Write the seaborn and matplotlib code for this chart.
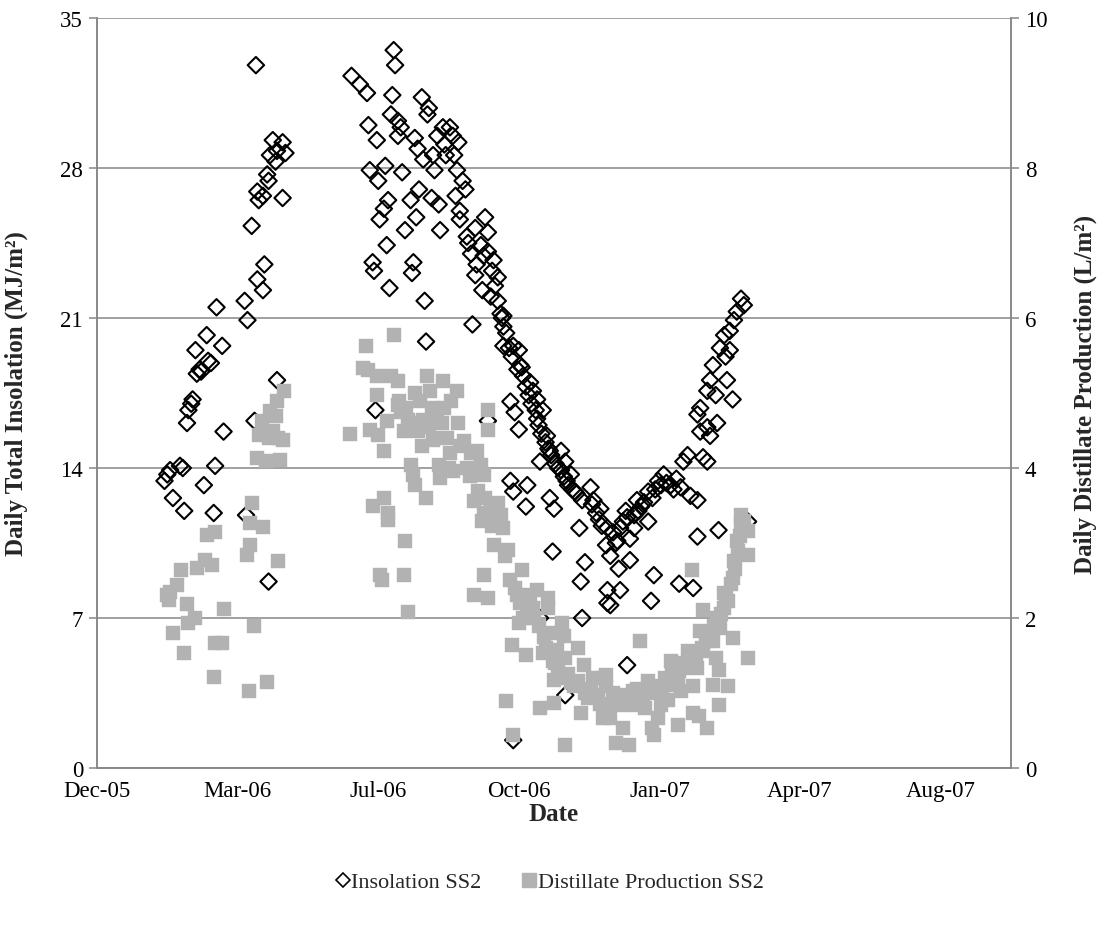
import pandas as pd
import matplotlib
matplotlib.use("Agg")
import matplotlib.pyplot as plt
import matplotlib.dates as mdates
from matplotlib.lines import Line2D
import seaborn as sns

# Daily records for still SS2; days are counted from 1 Jan 2006
ins_day = [
    31, 33, 35, 37, 42, 44, 45, 47, 48, 50, 51, 53, 54, 56, 57, 59, 61, 62, 64, 66,
    67, 68, 72, 73, 88, 89, 90, 93, 95, 96, 97, 97, 98, 101, 101, 102, 104, 105, 105, 106,
    108, 110, 111, 111, 115, 115, 117,
    164, 170, 175, 176, 177, 179, 180, 181, 182, 183, 184, 187, 188, 189, 190, 191, 192, 193,
    194, 195, 197, 197, 199, 200, 201, 202, 206, 207, 208, 209, 210, 211, 212, 214, 215, 216,
    217, 218, 219, 221, 222, 223, 225, 226, 227, 229, 230, 231, 234, 236, 237, 238, 239, 240,
    241, 241, 243, 245, 246, 247, 249, 250, 252, 252, 253, 256, 257, 258, 259, 261, 261, 261,
    263, 264, 265, 266, 268, 268, 270, 271, 272, 272, 272, 274, 276, 277, 277, 278, 279, 279,
    279, 280, 282, 283, 283, 284, 285, 286, 288, 288, 289, 290, 291, 292, 293, 295, 296, 296,
    297, 298, 298, 299, 300, 302, 303, 304, 305, 305, 306, 307, 308, 309, 311, 313, 313, 315,
    316, 316, 317, 318, 320, 321, 323, 324, 326, 327, 328, 328, 330, 334, 335, 336, 338, 340,
    341, 342, 345, 346, 346, 346, 348, 348, 350, 352, 353, 354, 355, 355, 357, 359, 360, 360,
    362, 362, 365, 365, 366, 367, 368, 370, 372, 375, 375, 377, 378, 379, 380, 382, 384, 386,
    388, 391, 393, 395, 397, 398, 400, 403, 405, 407, 410, 410, 410, 412, 412, 414, 417, 417,
    417, 419, 419, 421, 423, 424, 425, 426, 429, 430, 431, 433, 433, 435, 436, 438, 441, 443,
    446,
]
ins_val = [
    13.4, 13.7, 13.9, 12.6, 14.1, 14.0, 12.0, 16.1, 16.7, 17.0, 17.2, 19.5, 18.4, 18.6, 18.5, 13.2, 20.2, 19.0, 18.9, 11.9,
    14.1, 21.5, 19.7, 15.7, 21.8, 11.8, 20.9, 25.3, 16.2, 32.8, 22.8, 26.9, 26.5, 22.3, 26.7, 23.5, 27.7, 27.4, 8.7, 28.6,
    29.3, 28.3, 28.8, 18.1, 29.2, 26.6, 28.7,
    32.3, 31.9, 31.5, 30.0, 27.9, 23.6, 23.2, 16.7, 29.3, 27.4, 25.6, 26.1, 28.1, 24.4, 26.5, 22.4, 30.5, 31.4,
    33.5, 32.8, 29.5, 30.2, 29.9, 27.8, 16.8, 25.1, 26.5, 23.1, 23.6, 29.4, 25.7, 28.9, 27.0, 31.3, 28.4, 21.8,
    19.9, 30.5, 30.8, 26.6, 28.6, 27.9, 29.5, 26.3, 25.1, 29.9, 29.1, 28.6, 29.9, 29.5, 28.6, 26.7, 27.9, 29.2,
    25.6, 26.0, 27.4, 27.0, 24.8, 24.5, 24.0, 20.7, 25.2, 23.0, 23.5, 24.4, 22.3, 23.9, 25.7, 25.0, 16.2, 24.1,
    22.0, 23.2, 23.7, 22.5, 22.9, 21.8, 21.2, 21.0, 21.1, 20.6, 19.7, 20.3, 19.6, 17.1, 13.4, 19.2, 19.7, 12.9,
    1.3, 16.6, 18.6, 19.5, 15.8, 18.8, 18.7, 18.3, 12.2, 17.8, 13.2, 17.4, 18.0, 17.0, 17.6, 16.7, 17.2, 16.3,
    16.0, 14.3, 7.0, 15.6, 16.7, 15.2, 15.5, 14.9, 14.8, 12.6, 14.6, 10.1, 12.1, 14.2, 14.0, 14.8, 13.9, 13.6,
    14.3, 3.4, 13.4, 13.2, 13.7, 13.0, 12.9, 12.8, 11.2, 8.7, 12.5, 7.0, 9.6, 13.1, 12.3, 12.5, 11.9, 11.6,
    12.1, 11.3, 10.4, 8.3, 7.7, 11.2, 9.9, 7.6, 11.0, 10.5, 10.6, 9.3, 11.2, 8.3, 11.5, 12.0, 4.8, 11.7,
    10.7, 9.7, 11.8, 11.2, 11.9, 12.5, 12.0, 12.2, 12.4, 12.9, 11.5, 7.8, 12.6, 9.0, 13.0, 13.4, 13.2, 13.7,
    13.3, 13.2, 13.0, 13.5, 8.6, 13.1, 14.3, 14.6, 12.7, 8.4, 16.5, 12.5, 10.8, 16.8, 15.7, 14.5, 17.6, 15.9,
    14.3, 18.1, 15.5, 18.8, 17.4, 16.1, 11.1, 19.6, 20.2, 19.2, 18.1, 20.4, 19.5, 17.2, 20.9, 21.3, 21.9, 21.6,
    11.5,
]

dist_day = [
    33, 34, 35, 37, 40, 43, 45, 47, 48, 53, 54, 60, 61, 65, 66, 67, 67, 72, 73, 90,
    91, 92, 92, 93, 95, 97, 98, 100, 101, 103, 104, 105, 106, 108, 110, 111, 112, 112, 113, 115,
    116,
    163, 172, 174, 176, 177, 179, 182, 182, 183, 184, 186, 187, 187, 189, 190, 190, 192, 194,
    197, 197, 198, 199, 201, 201, 202, 203, 204, 204, 206, 207, 208, 209, 209, 211, 213, 214,
    215, 217, 218, 219, 220, 221, 222, 223, 225, 226, 227, 228, 229, 230, 232, 233, 234, 235,
    236, 239, 240, 241, 244, 246, 248, 249, 251, 251, 253, 254, 256, 257, 258, 258, 258, 259,
    261, 261, 261, 263, 264, 265, 265, 268, 270, 272, 273, 274, 275, 277, 278, 279, 280, 282,
    283, 284, 285, 286, 288, 289, 291, 293, 294, 296, 297, 298, 300, 301, 302, 304, 304, 305,
    306, 307, 308, 308, 309, 310, 311, 312, 314, 315, 316, 316, 318, 320, 322, 325, 325, 327,
    329, 330, 332, 334, 336, 337, 339, 341, 343, 343, 345, 345, 348, 348, 350, 352, 353, 355,
    357, 357, 359, 361, 362, 364, 364, 366, 367, 369, 371, 373, 374, 375, 377, 378, 379, 380,
    382, 384, 385, 387, 389, 389, 391, 392, 394, 396, 396, 397, 398, 399, 400, 401, 403, 404,
    406, 406, 407, 407, 408, 409, 410, 411, 412, 413, 414, 414, 416, 417, 418, 420, 421, 421,
    422, 423, 424, 425, 425, 425, 426, 427, 429, 429, 430, 432, 432, 434, 435, 435, 436, 437,
    438, 439, 440, 441, 441, 443, 446, 446, 446,
]
dist_val = [
    2.31, 2.24, 2.35, 1.80, 2.44, 2.64, 1.53, 2.19, 1.93, 2.00, 2.67, 2.77, 3.11, 2.71, 1.21, 3.15, 1.67, 1.67, 2.12, 2.84,
    1.03, 3.27, 2.97, 3.53, 1.89, 4.13, 4.44, 4.63, 3.21, 4.09, 1.15, 4.40, 4.76, 4.50, 4.70, 4.90, 2.76, 4.40, 4.11, 4.37,
    5.03,
    4.45, 5.33, 5.63, 5.31, 4.51, 3.49, 5.23, 4.97, 4.44, 2.57, 2.51, 4.23, 3.60, 4.63, 3.40, 3.31, 5.23, 5.77,
    5.16, 4.84, 4.90, 4.75, 4.49, 2.57, 3.03, 4.80, 4.64, 2.08, 4.04, 4.60, 3.91, 5.00, 3.77, 4.49, 4.90, 4.30,
    4.64, 3.60, 5.23, 4.55, 5.03, 4.80, 4.37, 4.40, 4.71, 4.04, 3.87, 4.60, 5.16, 4.80, 4.40, 4.00, 4.20, 4.89,
    3.96, 5.03, 4.60, 4.30, 4.36, 4.00, 3.90, 4.20, 3.56, 2.31, 4.23, 3.70, 4.04, 3.29, 3.91, 3.40, 2.57, 3.60,
    4.51, 4.77, 2.27, 3.45, 3.23, 2.97, 3.30, 3.53, 3.37, 3.20, 2.83, 0.89, 2.91, 2.51, 1.64, 0.44, 2.40, 2.31,
    1.93, 2.20, 2.64, 2.00, 1.51, 2.10, 2.31, 2.13, 2.00, 2.37, 1.90, 0.80, 1.53, 1.75, 1.60, 2.27, 2.13, 1.80,
    1.55, 1.43, 1.17, 0.87, 1.40, 1.57, 1.35, 1.20, 1.93, 1.76, 1.47, 0.31, 1.25, 1.15, 1.10, 1.60, 1.16, 0.73,
    1.37, 1.00, 0.93, 1.05, 1.20, 0.95, 0.97, 0.85, 1.20, 0.67, 1.24, 1.10, 0.84, 0.67, 1.00, 0.33, 0.95, 0.84,
    0.97, 0.53, 0.85, 0.31, 0.90, 1.03, 0.84, 0.95, 1.05, 1.69, 0.93, 0.80, 1.00, 1.16, 1.10, 0.53, 0.44, 1.03,
    0.67, 0.84, 1.05, 1.20, 1.11, 0.91, 1.43, 1.25, 1.20, 1.16, 0.57, 1.30, 1.03, 1.40, 1.33, 1.35, 1.56, 1.40,
    2.64, 1.50, 1.09, 0.73, 1.55, 1.45, 1.33, 0.69, 1.83, 1.60, 2.11, 1.56, 1.70, 0.53, 1.75, 1.80, 1.11, 1.69,
    1.90, 1.47, 2.00, 1.96, 1.31, 0.84, 1.87, 2.05, 2.33, 2.13, 2.30, 2.23, 1.09, 2.45, 2.53, 1.73, 2.76, 2.65,
    3.03, 2.90, 3.10, 3.24, 3.37, 3.30, 3.16, 2.84, 1.47,
]

left_ticks = [0, 7, 14, 21, 28, 35]
right_ticks = [0, 2, 4, 6, 8, 10]
date_ticks = ["2005-12-15", "2006-03-25", "2006-07-03", "2006-10-11",
              "2007-01-19", "2007-04-29", "2007-08-07"]
date_end = "2007-09-26"

day0 = pd.Timestamp("2006-01-01")
ins = pd.DataFrame({"date": day0 + pd.to_timedelta(ins_day, unit="D"), "value": ins_val})
dist = pd.DataFrame({"date": day0 + pd.to_timedelta(dist_day, unit="D"), "value": dist_val})

sns.set_style("white")
plt.rcParams["font.family"] = ["Liberation Serif", "DejaVu Serif"]

AXIS_GREY = "#868686"
SQUARE_GREY = "#B2B2B2"
TICK_FS = 16.5
LABEL_FS = 18
LEGEND_FS = 16

fig = plt.figure(figsize=(10.99, 9.28), dpi=100)
ax = fig.add_axes([97 / 1099, 1 - 769 / 928, 914 / 1099, 750 / 928])
ax2 = ax.twinx()

sns.scatterplot(data=ins, x="date", y="value", ax=ax, marker="D", s=70,
                facecolors="none", edgecolor="black", linewidth=1.5, legend=False, zorder=3)
sns.scatterplot(data=dist, x="date", y="value", ax=ax2, marker="s", s=110,
                color=SQUARE_GREY, edgecolor=SQUARE_GREY, linewidth=0.3, legend=False, zorder=3)

ax.set_ylim(0, 35)
ax.set_yticks(left_ticks)
ax2.set_ylim(0, 10)
ax2.set_yticks(right_ticks)

tick_dates = pd.to_datetime(date_ticks)
ax.set_xlim(tick_dates[0], pd.Timestamp(date_end))
ax.set_xticks(tick_dates)
ax.xaxis.set_major_formatter(mdates.DateFormatter("%b-%y"))

ax.yaxis.grid(True, color=AXIS_GREY, linewidth=1.1)
ax.xaxis.grid(False)
ax.set_axisbelow(True)

for a in (ax, ax2):
    for side in ("left", "right", "bottom"):
        a.spines[side].set_color(AXIS_GREY)
        a.spines[side].set_linewidth(1.1)
    a.spines["top"].set_visible(False)
    a.tick_params(axis="both", which="major", direction="out", length=6,
                  width=1.1, color=AXIS_GREY, labelsize=TICK_FS, labelcolor="black", pad=4)
ax.tick_params(axis="x", pad=3)

ax.set_xlabel("Date", fontsize=LABEL_FS, fontweight="bold")
ax.set_ylabel("Daily Total Insolation (MJ/m²)", fontsize=LABEL_FS, fontweight="bold")
ax2.set_ylabel("Daily Distillate Production (L/m²)", fontsize=LABEL_FS, fontweight="bold")
ax.xaxis.set_label_coords(0.5, -0.046)
ax.yaxis.set_label_coords(-0.076, 0.5)
ax2.yaxis.set_label_coords(1.069, 0.5)

handles = [
    Line2D([], [], linestyle="none", marker="D", markersize=7.5, markerfacecolor="none",
           markeredgecolor="black", markeredgewidth=1.2),
    Line2D([], [], linestyle="none", marker="s", markersize=10.5, markerfacecolor=SQUARE_GREY,
           markeredgecolor=SQUARE_GREY),
]
fig.legend(handles, ["Insolation SS2", "Distillate Production SS2"], loc="center",
           bbox_to_anchor=(0.5, 45 / 928), ncol=2, frameon=False, fontsize=LEGEND_FS,
           handlelength=0.7, handletextpad=0.05, columnspacing=1.8)

fig.savefig("out.png", dpi=100)
